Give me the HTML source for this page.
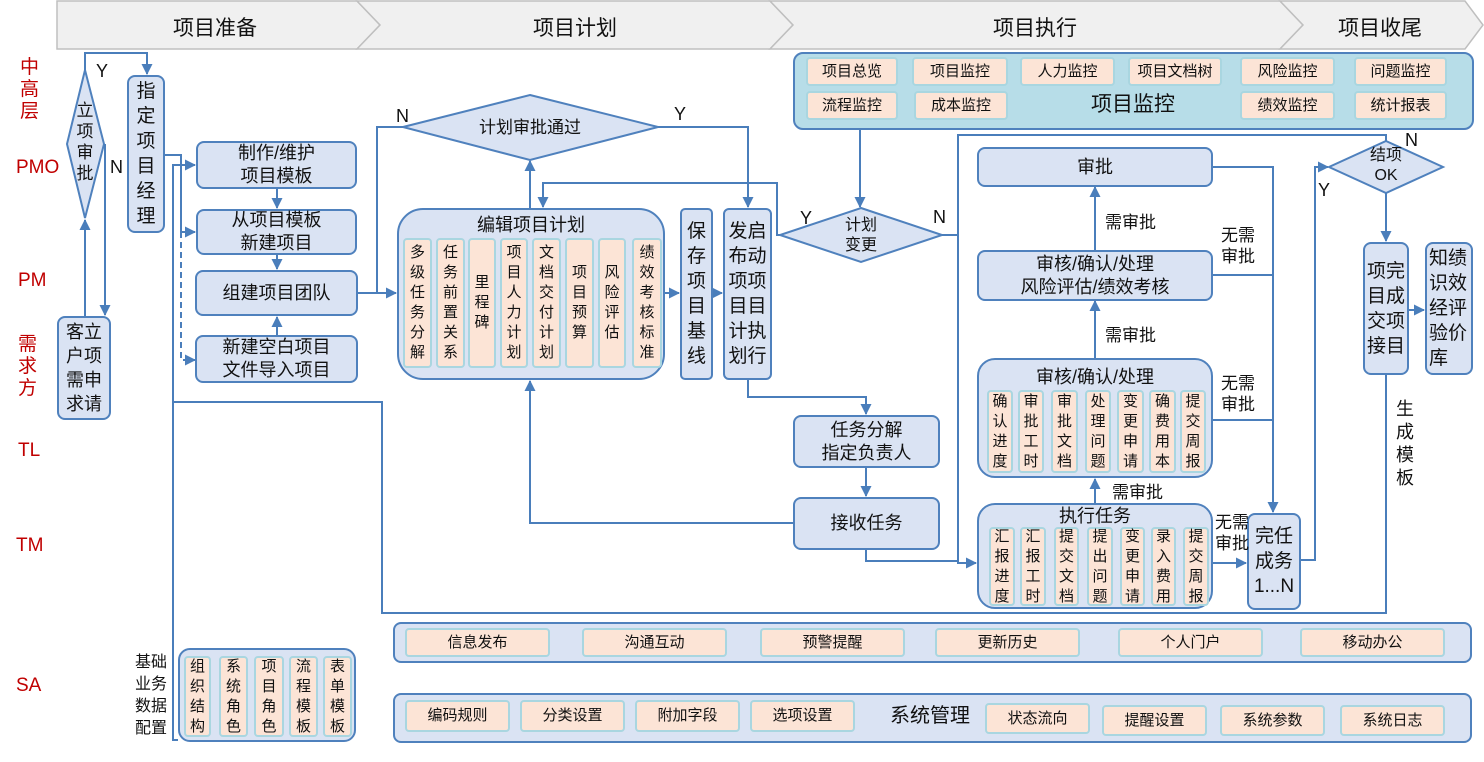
<!DOCTYPE html>
<html><head><meta charset="utf-8"><style>
body{margin:0;width:1484px;height:762px;background:#fff;position:relative;overflow:hidden;font-family:"Liberation Sans","Noto Sans CJK SC",sans-serif;color:#111}
.b{position:absolute;background:#dae3f3;border:2px solid #4f81bd;border-radius:8px;display:flex;align-items:center;justify-content:center;text-align:center;font-size:18px;line-height:23px;box-sizing:border-box}
.i{position:absolute;background:#fce4d6;border:2px solid #a9d6e0;border-radius:4px;display:flex;align-items:center;justify-content:center;text-align:center;font-size:15px;line-height:20px;box-sizing:border-box}
.t{position:absolute;text-align:center;font-size:17px;line-height:21px}
.r{position:absolute;color:#c00000;font-size:19px;line-height:22px;text-align:center}
.h{position:absolute;top:12px;font-size:21px}
</style></head><body>
<svg width="1484" height="762" style="position:absolute;left:0;top:0">
<defs><marker id="a" markerWidth="11" markerHeight="11" refX="10" refY="5.5" orient="auto" markerUnits="userSpaceOnUse"><path d="M0,0 L11,5.5 L0,11z" fill="#4a7ebb"/></marker></defs>
<g fill="#f0f0f0" stroke="#bfbfbf" stroke-width="1.5">
<polygon points="57,1 357,1 380,25 357,49 57,49"/>
<polygon points="357,1 770,1 793,25 770,49 357,49 380,25"/>
<polygon points="770,1 1280,1 1303,25 1280,49 770,49 793,25"/>
<polygon points="1280,1 1465,1 1483,25 1465,49 1280,49 1303,25"/>
</g>
<g fill="#dae3f3" stroke="#4f81bd" stroke-width="2">
<polygon points="85,70 104,144 85,218 67,144"/>
<polygon points="530,95 658,127 530,160 403,127"/>
<polygon points="861,208 942,235 861,262 780,235"/>
<polygon points="1386,141 1443,167 1386,193 1329,167"/>
</g>
<g fill="none" stroke="#4a7ebb" stroke-width="2">
<path d="M85,316 V220" marker-end="url(#a)"/>
<path d="M85,70 V53 H147 V74" marker-end="url(#a)"/>
<path d="M105,144 V315" marker-end="url(#a)"/>
<path d="M164,155 H181 V165 H195" marker-end="url(#a)"/>
<path d="M181,165 V232 H195" marker-end="url(#a)"/>
<path d="M181,232 V360 H195" stroke-dasharray="6,4" marker-end="url(#a)"/>
<path d="M181,165 H173 V740 H178"/>
<path d="M277,188 V208" marker-end="url(#a)"/>
<path d="M277,255 V269" marker-end="url(#a)"/>
<path d="M277,335 V317" marker-end="url(#a)"/>
<path d="M358,293 H396" marker-end="url(#a)"/>
<path d="M403,127 H377 V293"/>
<path d="M530,208 V161" marker-end="url(#a)"/>
<path d="M658,127 H748 V207" marker-end="url(#a)"/>
<path d="M665,293 H679" marker-end="url(#a)"/>
<path d="M713,293 H722" marker-end="url(#a)"/>
<path d="M780,235 H777 V183 H543 V207" marker-end="url(#a)"/>
<path d="M860,130 V207" marker-end="url(#a)"/>
<path d="M748,380 V397 H866 V414" marker-end="url(#a)"/>
<path d="M866,468 V496" marker-end="url(#a)"/>
<path d="M793,523 H530 V381" marker-end="url(#a)"/>
<path d="M866,550 V561 H958"/>
<path d="M942,235 H958"/>
<path d="M1386,141 V135 H958 V563 H976" marker-end="url(#a)"/>
<path d="M1095,503 V479" marker-end="url(#a)"/>
<path d="M1095,358 V301" marker-end="url(#a)"/>
<path d="M1095,250 V187" marker-end="url(#a)"/>
<path d="M1213,167 H1273 V512" marker-end="url(#a)"/>
<path d="M1213,275 H1273"/>
<path d="M1213,420 H1273"/>
<path d="M1213,563 H1246" marker-end="url(#a)"/>
<path d="M1301,560 H1315 V167 H1328" marker-end="url(#a)"/>
<path d="M1386,193 V241" marker-end="url(#a)"/>
<path d="M1409,310 H1424" marker-end="url(#a)"/>
<path d="M1386,375 V613 H382 V402 H173"/>
</g>
</svg>
<div class="h" style="left:173px">项目准备</div>
<div class="h" style="left:533px">项目计划</div>
<div class="h" style="left:993px">项目执行</div>
<div class="h" style="left:1338px">项目收尾</div>

<div class="r" style="left:20px;top:57px">中<br>高<br>层</div>
<div class="r" style="left:16px;top:157px">PMO</div>
<div class="r" style="left:18px;top:270px">PM</div>
<div class="r" style="left:18px;top:334px">需<br>求<br>方</div>
<div class="r" style="left:18px;top:440px">TL</div>
<div class="r" style="left:16px;top:535px">TM</div>
<div class="r" style="left:16px;top:675px">SA</div>

<div class="t" style="left:75px;top:100px;width:20px;font-size:17px">立<br>项<br>审<br>批</div>
<div class="t" style="left:96px;top:61px;font-size:18px">Y</div>
<div class="t" style="left:110px;top:157px;font-size:18px">N</div>
<div class="b" style="left:127px;top:75px;width:38px;height:158px;font-size:19px;line-height:25px">指<br>定<br>项<br>目<br>经<br>理</div>
<div class="b" style="left:57px;top:316px;width:54px;height:104px;line-height:24px">客立<br>户项<br>需申<br>求请</div>
<div class="b" style="left:196px;top:141px;width:161px;height:48px">制作/维护<br>项目模板</div>
<div class="b" style="left:196px;top:209px;width:161px;height:46px">从项目模板<br>新建项目</div>
<div class="b" style="left:195px;top:270px;width:163px;height:46px">组建项目团队</div>
<div class="b" style="left:195px;top:335px;width:163px;height:48px">新建空白项目<br>文件导入项目</div>

<div class="t" style="left:470px;top:117px;width:120px">计划审批通过</div>
<div class="t" style="left:396px;top:106px;font-size:18px">N</div>
<div class="t" style="left:674px;top:104px;font-size:18px">Y</div>
<div class="b" style="left:397px;top:208px;width:268px;height:172px;border-radius:26px;align-items:flex-start;padding-top:4px">编辑项目计划</div>
<div class="i" style="left:403px;top:238px;width:29px;height:130px">多<br>级<br>任<br>务<br>分<br>解</div>
<div class="i" style="left:436px;top:238px;width:29px;height:130px">任<br>务<br>前<br>置<br>关<br>系</div>
<div class="i" style="left:468px;top:238px;width:28px;height:130px">里<br>程<br>碑</div>
<div class="i" style="left:500px;top:238px;width:28px;height:130px">项<br>目<br>人<br>力<br>计<br>划</div>
<div class="i" style="left:532px;top:238px;width:29px;height:130px">文<br>档<br>交<br>付<br>计<br>划</div>
<div class="i" style="left:565px;top:238px;width:29px;height:130px">项<br>目<br>预<br>算</div>
<div class="i" style="left:598px;top:238px;width:28px;height:130px">风<br>险<br>评<br>估</div>
<div class="i" style="left:632px;top:238px;width:30px;height:130px">绩<br>效<br>考<br>核<br>标<br>准</div>
<div class="b" style="left:680px;top:208px;width:33px;height:172px;font-size:19px;line-height:25px;border-radius:5px">保<br>存<br>项<br>目<br>基<br>线</div>
<div class="b" style="left:723px;top:208px;width:49px;height:172px;font-size:19px;line-height:25px;border-radius:6px">发启<br>布动<br>项项<br>目目<br>计执<br>划行</div>

<div class="t" style="left:836px;top:216px;width:50px;font-size:16px;line-height:20px">计划<br>变更</div>
<div class="t" style="left:800px;top:208px;font-size:18px">Y</div>
<div class="t" style="left:933px;top:207px;font-size:18px">N</div>
<div class="b" style="left:793px;top:415px;width:147px;height:53px">任务分解<br>指定负责人</div>
<div class="b" style="left:793px;top:497px;width:147px;height:53px">接收任务</div>

<div class="b" style="left:793px;top:52px;width:681px;height:78px;background:#b7dde8;border-radius:10px"></div>
<div class="i" style="left:806px;top:57px;width:92px;height:29px">项目总览</div>
<div class="i" style="left:912px;top:57px;width:96px;height:29px">项目监控</div>
<div class="i" style="left:1020px;top:57px;width:95px;height:29px">人力监控</div>
<div class="i" style="left:1128px;top:57px;width:94px;height:29px">项目文档树</div>
<div class="i" style="left:1240px;top:57px;width:95px;height:29px">风险监控</div>
<div class="i" style="left:1354px;top:57px;width:93px;height:29px">问题监控</div>
<div class="i" style="left:806px;top:91px;width:92px;height:29px">流程监控</div>
<div class="i" style="left:914px;top:91px;width:94px;height:29px">成本监控</div>
<div class="i" style="left:1240px;top:91px;width:95px;height:29px">绩效监控</div>
<div class="i" style="left:1354px;top:91px;width:93px;height:29px">统计报表</div>
<div class="t" style="left:1083px;top:94px;width:100px;font-size:21px">项目监控</div>

<div class="b" style="left:977px;top:147px;width:236px;height:40px">审批</div>
<div class="b" style="left:977px;top:250px;width:236px;height:51px">审核/确认/处理<br>风险评估/绩效考核</div>
<div class="b" style="left:977px;top:358px;width:236px;height:120px;border-radius:18px;align-items:flex-start;padding-top:6px">审核/确认/处理</div>
<div class="i" style="left:987px;top:390px;width:26px;height:83px">确<br>认<br>进<br>度</div>
<div class="i" style="left:1018px;top:390px;width:26px;height:83px">审<br>批<br>工<br>时</div>
<div class="i" style="left:1051px;top:390px;width:27px;height:83px">审<br>批<br>文<br>档</div>
<div class="i" style="left:1085px;top:390px;width:26px;height:83px">处<br>理<br>问<br>题</div>
<div class="i" style="left:1117px;top:390px;width:27px;height:83px">变<br>更<br>申<br>请</div>
<div class="i" style="left:1149px;top:390px;width:27px;height:83px">确<br>费<br>用<br>本</div>
<div class="i" style="left:1180px;top:390px;width:26px;height:83px">提<br>交<br>周<br>报</div>
<div class="b" style="left:977px;top:503px;width:236px;height:106px;border-radius:18px;align-items:flex-start;padding-top:0px">执行任务</div>
<div class="i" style="left:989px;top:527px;width:26px;height:79px">汇<br>报<br>进<br>度</div>
<div class="i" style="left:1020px;top:527px;width:26px;height:79px">汇<br>报<br>工<br>时</div>
<div class="i" style="left:1054px;top:527px;width:25px;height:79px">提<br>交<br>文<br>档</div>
<div class="i" style="left:1087px;top:527px;width:26px;height:79px">提<br>出<br>问<br>题</div>
<div class="i" style="left:1120px;top:527px;width:25px;height:79px">变<br>更<br>申<br>请</div>
<div class="i" style="left:1151px;top:527px;width:25px;height:79px">录<br>入<br>费<br>用</div>
<div class="i" style="left:1183px;top:527px;width:26px;height:79px">提<br>交<br>周<br>报</div>
<div class="b" style="left:1247px;top:513px;width:54px;height:97px;font-size:19px;line-height:25px">完任<br>成务<br>1...N</div>
<div class="t" style="left:1105px;top:212px">需审批</div>
<div class="t" style="left:1105px;top:325px">需审批</div>
<div class="t" style="left:1112px;top:482px">需审批</div>
<div class="t" style="left:1221px;top:225px">无需<br>审批</div>
<div class="t" style="left:1221px;top:373px">无需<br>审批</div>
<div class="t" style="left:1215px;top:512px">无需<br>审批</div>

<div class="t" style="left:1362px;top:146px;width:48px;font-size:16px;line-height:20px">结项<br>OK</div>
<div class="t" style="left:1405px;top:130px;font-size:18px">N</div>
<div class="t" style="left:1318px;top:180px;font-size:18px">Y</div>
<div class="b" style="left:1363px;top:242px;width:46px;height:133px;font-size:19px;line-height:25px">项完<br>目成<br>交项<br>接目</div>
<div class="b" style="left:1425px;top:242px;width:48px;height:133px;font-size:19px;line-height:25px;justify-content:flex-start;padding-left:2px;text-align:left">知绩<br>识效<br>经评<br>验价<br>库</div>
<div class="t" style="left:1395px;top:398px;width:20px;font-size:18px;line-height:23px">生<br>成<br>模<br>板</div>

<div class="b" style="left:393px;top:622px;width:1079px;height:41px;border-radius:8px"></div>
<div class="i" style="left:405px;top:628px;width:145px;height:29px">信息发布</div>
<div class="i" style="left:582px;top:628px;width:145px;height:29px">沟通互动</div>
<div class="i" style="left:760px;top:628px;width:145px;height:29px">预警提醒</div>
<div class="i" style="left:935px;top:628px;width:145px;height:29px">更新历史</div>
<div class="i" style="left:1118px;top:628px;width:145px;height:29px">个人门户</div>
<div class="i" style="left:1300px;top:628px;width:145px;height:29px">移动办公</div>

<div class="b" style="left:393px;top:693px;width:1079px;height:50px;border-radius:8px"></div>
<div class="i" style="left:405px;top:700px;width:105px;height:32px">编码规则</div>
<div class="i" style="left:520px;top:700px;width:105px;height:32px">分类设置</div>
<div class="i" style="left:635px;top:700px;width:105px;height:32px">附加字段</div>
<div class="i" style="left:750px;top:700px;width:105px;height:32px">选项设置</div>
<div class="t" style="left:880px;top:706px;width:100px;font-size:20px">系统管理</div>
<div class="i" style="left:985px;top:703px;width:105px;height:31px">状态流向</div>
<div class="i" style="left:1102px;top:705px;width:105px;height:31px">提醒设置</div>
<div class="i" style="left:1220px;top:705px;width:105px;height:31px">系统参数</div>
<div class="i" style="left:1340px;top:705px;width:105px;height:31px">系统日志</div>

<div class="t" style="left:131px;top:652px;width:40px;font-size:16px;line-height:22px">基础<br>业务<br>数据<br>配置</div>
<div class="b" style="left:178px;top:648px;width:178px;height:94px;border-radius:12px"></div>
<div class="i" style="left:184px;top:656px;width:27px;height:81px">组<br>织<br>结<br>构</div>
<div class="i" style="left:219px;top:656px;width:29px;height:81px">系<br>统<br>角<br>色</div>
<div class="i" style="left:254px;top:656px;width:30px;height:81px">项<br>目<br>角<br>色</div>
<div class="i" style="left:289px;top:656px;width:29px;height:81px">流<br>程<br>模<br>板</div>
<div class="i" style="left:323px;top:656px;width:29px;height:81px">表<br>单<br>模<br>板</div>
</body></html>
